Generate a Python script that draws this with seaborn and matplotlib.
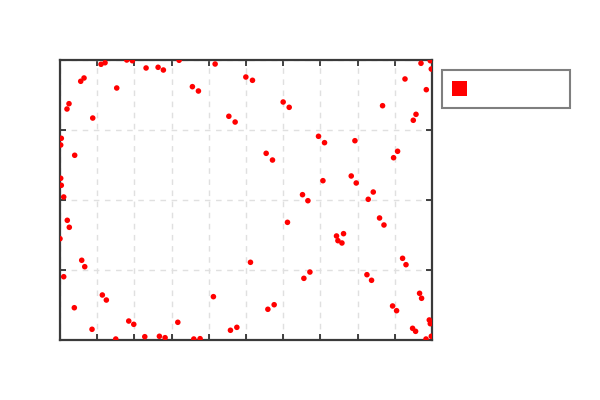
import matplotlib
matplotlib.use("Agg")
import matplotlib.pyplot as plt
import matplotlib.patches as mpatches
import seaborn as sns
import pandas as pd
import numpy as np

# pixel-read points converted to data units (x: 0..10, y: 0..4)
px = [101, 105, 126.7, 132.3, 146, 158, 163.3, 179, 84, 80.7, 116.7, 69, 67, 92.7,
      61.3, 60.7, 74.7, 60.7, 61.3, 63.7,
      215, 192.3, 198.3, 245.7, 252.3, 228.7, 235, 283, 289, 266, 272.3, 302.3, 307.7,
      420.7, 430, 431, 404.7, 426, 382.3, 415.7, 413, 318.3, 324.3, 354.7, 397.3, 393.3,
      322.7, 351, 356, 373, 368,
      67.3, 69.3, 60, 81.7, 84.7, 63.7, 102.3, 106.3, 74.3, 92, 128.7, 133.7, 115.7,
      144.7, 159.3, 165, 177.7,
      287.3, 250.3, 213.3, 274, 267.7, 236.7, 230.3, 193.7, 200, 309.7, 303.7,
      379.3, 383.7, 343.3, 336.3, 337.7, 341.7, 402.3, 405.7, 366.7, 371.3, 419.3, 421.3,
      392.3, 396.3, 429, 430, 412.3, 415.3, 425.7, 431]
py = [64.3, 62.7, 60, 60.7, 68, 67.3, 70, 60.3, 78, 81.3, 88, 103.7, 109, 118,
      138.3, 145, 155.3, 178.3, 185.3, 197,
      64, 86.7, 91, 77, 80.3, 116.3, 122, 102, 107.3, 153.3, 160, 194.7, 200.7,
      63.3, 60.7, 69, 79, 89.7, 105.7, 114.3, 120.3, 136.3, 142.7, 140.7, 151.3, 157.7,
      180.7, 176, 183, 192, 199.3,
      220.3, 227.3, 238.7, 260.3, 266.7, 276.7, 295, 300, 307.7, 329.3, 321, 324.3, 339,
      336.7, 336.3, 337.7, 322.3,
      222.3, 262.3, 296.7, 304.7, 309.3, 327.3, 330.3, 339, 338.7, 272, 278.3,
      218, 225, 233.7, 236, 240.7, 243, 258.3, 264.7, 274.7, 280.3, 293.3, 298.3,
      306, 310.7, 320, 323.7, 328.3, 331.3, 339, 336.3]

x_vals = [round((p - 60) / 37.17, 3) for p in px]
y_vals = [round((340 - p) / 70, 3) for p in py]

df = pd.DataFrame({"x": x_vals, "y": y_vals})

sns.set_theme(style="white")
fig = plt.figure(figsize=(6, 4), dpi=100)
ax = fig.add_axes([0.1, 0.15, 0.62, 0.70])

sns.scatterplot(data=df, x="x", y="y", ax=ax, color="#ff0000", s=16,
                linewidth=0, edgecolor="none", zorder=3)

ax.set_xlim(0, 10)
ax.set_ylim(0, 4)
ax.set_xticks(np.arange(0, 11, 1))
ax.set_yticks(np.arange(0, 5, 1))
ax.set_xticklabels([])
ax.set_yticklabels([])
ax.set_xlabel("")
ax.set_ylabel("")
ax.tick_params(direction="in", length=4, width=1.2, color="#222222",
               top=True, bottom=True, left=True, right=True)
ax.grid(True, color="#e0e0e0", linestyle=(0, (4, 4)), linewidth=1.0, zorder=0)
ax.set_axisbelow(True)
for sp in ax.spines.values():
    sp.set_visible(True)
    sp.set_color("#3a3a3a")
    sp.set_linewidth(1.6)

# legend box (empty label)
box = mpatches.Rectangle((441.7 / 600, 1 - 107.7 / 400), 128 / 600, 38 / 400,
                         transform=fig.transFigure, fill=True, facecolor="white",
                         edgecolor="#7f7f7f", linewidth=1.5)
fig.patches.append(box)
sq = mpatches.Rectangle((452 / 600, 1 - 96 / 400), 15 / 600, 15 / 400,
                        transform=fig.transFigure, facecolor="#ff0000",
                        edgecolor="none")
fig.patches.append(sq)

fig.savefig("out.png", dpi=100)
